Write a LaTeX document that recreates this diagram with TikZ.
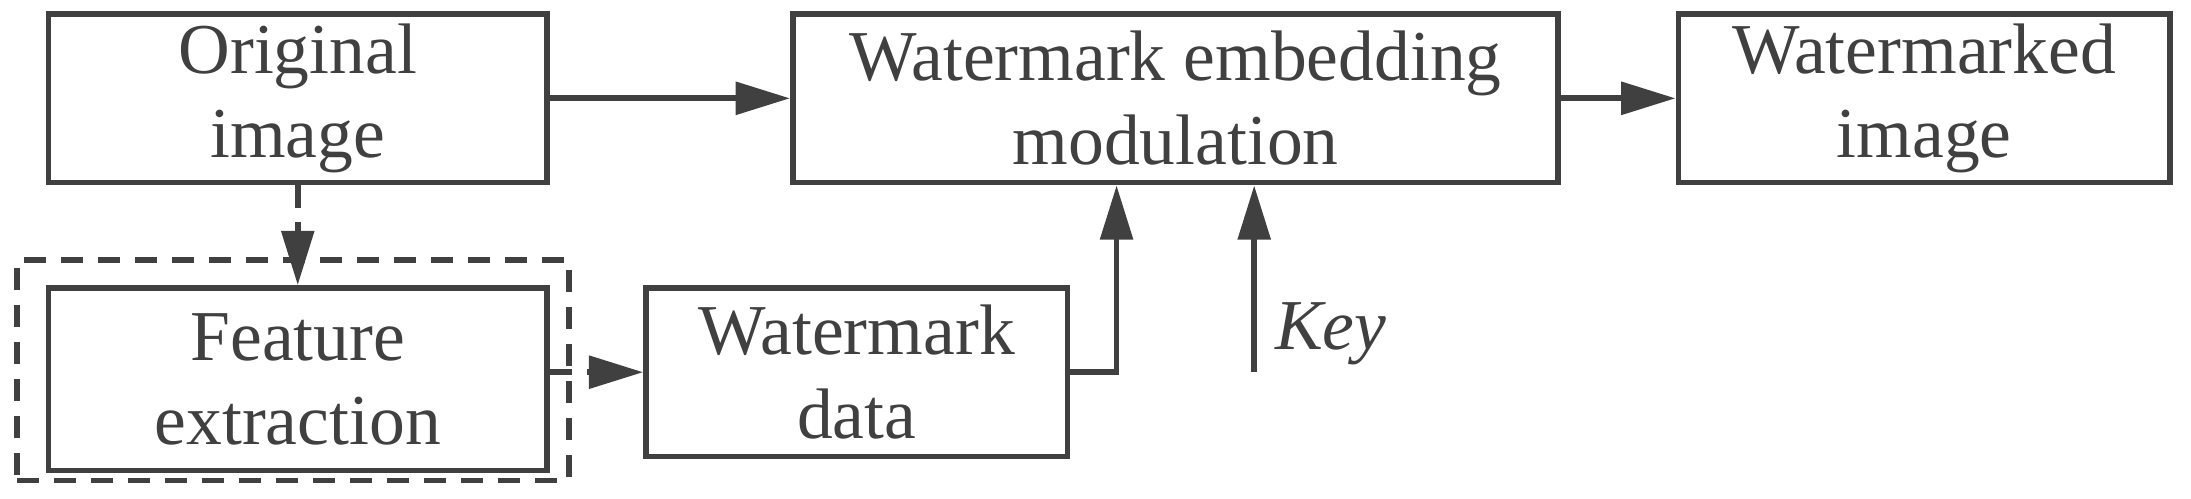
\documentclass[tikz,border=0pt]{standalone}
\usepackage{fontspec}
\setmainfont{Liberation Serif}
\usetikzlibrary{arrows.meta}
\definecolor{linegray}{HTML}{404040}

\begin{document}
\begin{tikzpicture}[x=0.02cm,y=-0.02cm,>={Triangle[length=22pt,width=13pt]},
                    line width=2.3pt,draw=linegray,
                    block/.style={draw=linegray,rectangle,line width=2.3pt,inner sep=0pt,
                      align=center,font=\fontsize{29}{34}\selectfont,text=linegray},
                    dashline/.style={dash pattern=on 9pt off 6pt}]
  \useasboundingbox (0,0) rectangle (1560,355);

  \node[block,minimum width=355*0.02cm,minimum height=120*0.02cm] (orig) at (212,70) {Original\\image};
  \node[block,minimum width=545*0.02cm,minimum height=120*0.02cm] (embed) at (837,70) {Watermark embedding\\modulation};
  \node[block,minimum width=350*0.02cm,minimum height=120*0.02cm] (marked) at (1370,70) {Watermarked\\image};
  \node[block,minimum width=355*0.02cm,minimum height=130*0.02cm] (feat) at (212,270) {Feature\\extraction};
  \node[block,minimum width=300*0.02cm,minimum height=120*0.02cm] (wdata) at (610,265) {Watermark\\data};
  \node[draw=linegray,dashline,minimum width=393*0.02cm,minimum height=157*0.02cm] (group) at (208.5,263.5) {};
  \coordinate (keystart) at (893,265);
  \node[anchor=west,font=\itshape\fontsize{29}{34}\selectfont,text=linegray] (keylabel) at (900,238) {Key};

  \draw[->,linegray] (orig) -- (embed);
  \draw[->,linegray] (embed) -- (marked);
  \draw[->,linegray,dashline] (orig) -- (feat);
  \draw[->,linegray,dashline] (feat.east |- wdata.west) -- (wdata.west);
  \draw[->,linegray] (wdata.east) -| (embed.south -| 795,0);
  \draw[->,linegray] (keystart) -- (embed.south -| keystart);
\end{tikzpicture}
\end{document}
